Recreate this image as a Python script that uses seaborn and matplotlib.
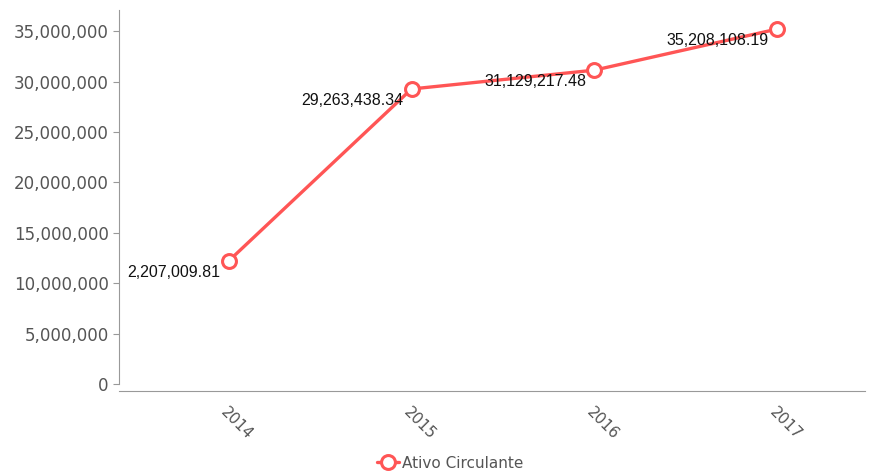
import matplotlib
matplotlib.use('Agg')
import matplotlib.pyplot as plt
import seaborn as sns
import pandas as pd
from matplotlib.ticker import FuncFormatter

# dados
anos = ['2014', '2015', '2016', '2017']
ativo_circulante = [12207009.81, 29263438.34, 31129217.48, 35208108.19]
rotulos = ['2,207,009.81', '29,263,438.34', '31,129,217.48', '35,208,108.19']
serie = 'Ativo Circulante'

df = pd.DataFrame({'ano': anos, 'valor': ativo_circulante, 'serie': serie})

sns.set_style('white')
plt.rcParams['font.family'] = ['DejaVu Sans']

cor = '#ff5555'
fig = plt.figure(figsize=(8.79, 4.75), dpi=100)
ax = fig.add_axes([0.1354, 0.1916, 0.8486, 0.7874])

sns.lineplot(data=df, x='ano', y='valor', hue='serie', palette=[cor], ax=ax,
             linewidth=2.4, marker='o', markersize=10, markerfacecolor='white',
             markeredgecolor=cor, markeredgewidth=2.2)

# rótulos dos pontos
for i, (v, txt) in enumerate(zip(ativo_circulante, rotulos)):
    ax.annotate(txt, (i, v), xytext=(-6, -8), textcoords='offset points',
                ha='right', va='center', fontsize=11.5, color='#111111',
                family='Liberation Sans')

ax.set_xlim(-0.6, 3.48)
ax.set_ylim(0, 37100000)
ax.set_yticks(range(0, 35000001, 5000000))
ax.yaxis.set_major_formatter(FuncFormatter(lambda v, p: f'{int(v):,}'))
ax.set_xlabel('')
ax.set_ylabel('')

for s in ['top', 'right']:
    ax.spines[s].set_visible(False)
ax.spines['left'].set_color('#999999')
ax.spines['bottom'].set_color('#999999')
ax.spines['bottom'].set_position(('outward', 5))
ax.tick_params(axis='y', left=True, length=4, color='#999999', labelsize=12, labelcolor='#555555')
ax.tick_params(axis='x', bottom=False, labelsize=11, labelcolor='#555555', pad=6)
for lbl in ax.get_xticklabels():
    lbl.set_rotation(-45)
    lbl.set_ha('left')
    lbl.set_rotation_mode('anchor')

ax.legend(loc='center', bbox_to_anchor=(0.512, 0.025), bbox_transform=fig.transFigure,
          frameon=False, fontsize=11, labelcolor='#555555', handlelength=1.4,
          handletextpad=0.2, borderpad=0)

fig.savefig('out.png', dpi=100)
